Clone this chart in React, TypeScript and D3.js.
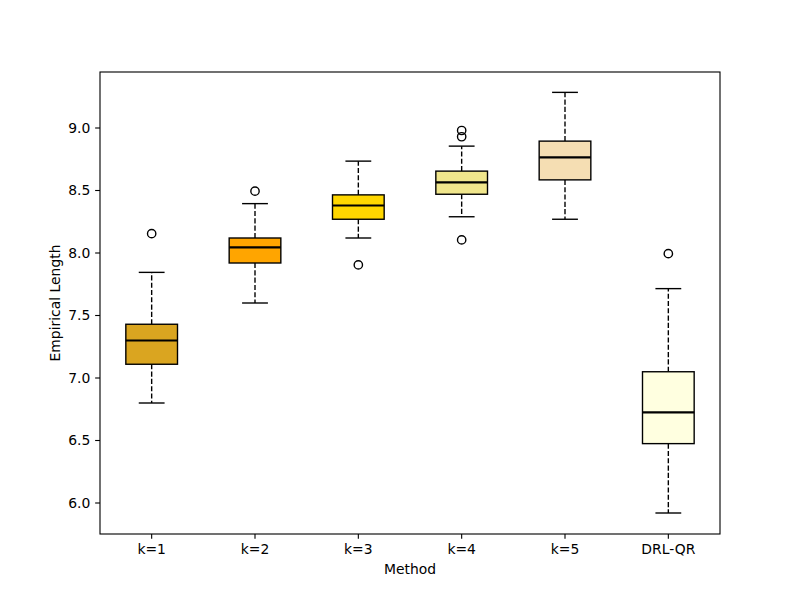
import React from "react";
import * as d3 from "d3";

const categories = ["k=1", "k=2", "k=3", "k=4", "k=5", "DRL-QR"];
const whiskerLow = [6.80, 7.60, 8.12, 8.29, 8.27, 5.92];
const q1 = [7.11, 7.92, 8.27, 8.47, 8.585, 6.475];
const median = [7.30, 8.045, 8.38, 8.565, 8.765, 6.725];
const q3 = [7.43, 8.12, 8.465, 8.655, 8.895, 7.05];
const whiskerHigh = [7.845, 8.395, 8.735, 8.855, 9.285, 7.715];
const outliers = [[8.155], [8.495], [7.905], [8.98, 8.93, 8.105], [], [7.995]];
const colors = ["#DAA520", "#FFA500", "#FFD700", "#F0E68C", "#F5DEB3", "#FFFFE0"];
const yTicks = [6.0, 6.5, 7.0, 7.5, 8.0, 8.5, 9.0];

const W = 800, H = 600;
const left = 100, right = 720, top = 72, bottom = 534;
const font = "DejaVu Sans, sans-serif";

export default function App() {
  const x = d3.scaleLinear().domain([0.5, 6.5]).range([left, right]);
  const y = d3.scaleLinear().domain([5.752, 9.448]).range([bottom, top]);
  const boxHalf = (x(1.25) - x(1)) ;
  const capHalf = (x(1.125) - x(1));
  const lw = 1.39;
  return (
    <svg width={W} height={H} style={{ position: "absolute", left: 0, top: 0, background: "#fff" }} fontFamily={font}>
      <rect x={0} y={0} width={W} height={H} fill="#fff" />
      {categories.map((c, i) => {
        const cx = x(i + 1);
        return (
          <g key={c}>
            <line x1={cx} x2={cx} y1={y(q1[i])} y2={y(whiskerLow[i])} stroke="#000" strokeWidth={lw} strokeDasharray="5.1,2.2" />
            <line x1={cx} x2={cx} y1={y(q3[i])} y2={y(whiskerHigh[i])} stroke="#000" strokeWidth={lw} strokeDasharray="5.1,2.2" />
            <line x1={cx - capHalf} x2={cx + capHalf} y1={y(whiskerLow[i])} y2={y(whiskerLow[i])} stroke="#000" strokeWidth={lw} />
            <line x1={cx - capHalf} x2={cx + capHalf} y1={y(whiskerHigh[i])} y2={y(whiskerHigh[i])} stroke="#000" strokeWidth={lw} />
            <rect x={cx - boxHalf} y={y(q3[i])} width={boxHalf * 2} height={y(q1[i]) - y(q3[i])} fill={colors[i]} stroke="#000" strokeWidth={lw} />
            <line x1={cx - boxHalf} x2={cx + boxHalf} y1={y(median[i])} y2={y(median[i])} stroke="#000" strokeWidth={2.08} />
            {outliers[i].map((v, j) => (
              <circle key={j} cx={cx} cy={y(v)} r={4.17} fill="none" stroke="#000" strokeWidth={lw} />
            ))}
          </g>
        );
      })}
      <rect x={left} y={top} width={right - left} height={bottom - top} fill="none" stroke="#000" strokeWidth={1.11} />
      {yTicks.map((t) => (
        <g key={t}>
          <line x1={left - 4.86} x2={left} y1={y(t)} y2={y(t)} stroke="#000" strokeWidth={1.11} />
          <text x={left - 9.7} y={y(t)} dy="0.35em" textAnchor="end" fontSize={13.9} fill="#000">{t.toFixed(1)}</text>
        </g>
      ))}
      {categories.map((c, i) => (
        <g key={c}>
          <line x1={x(i + 1)} x2={x(i + 1)} y1={bottom} y2={bottom + 4.86} stroke="#000" strokeWidth={1.11} />
          <text x={x(i + 1)} y={bottom + 9.7} dy="0.76em" textAnchor="middle" fontSize={13.9} fill="#000">{c}</text>
        </g>
      ))}
      <text x={(left + right) / 2} y={574} textAnchor="middle" fontSize={13.9} fill="#000">Method</text>
      <text transform={`translate(60,${(top + bottom) / 2}) rotate(-90)`} textAnchor="middle" fontSize={13.9} fill="#000">Empirical Length</text>
    </svg>
  );
}
